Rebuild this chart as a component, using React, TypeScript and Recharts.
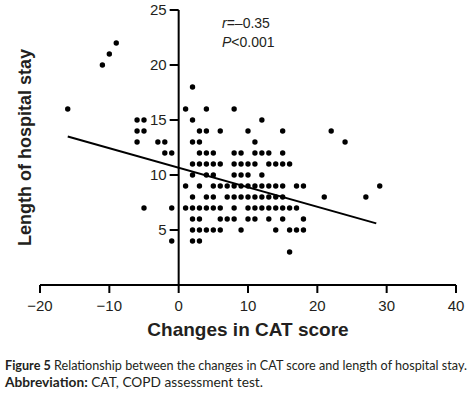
import React from "react";
import {
  ScatterChart,
  Scatter,
  XAxis,
  YAxis,
  ReferenceLine,
} from "recharts";

// length of hospital stay (days) for each row of dots
const stayDays = [22, 21, 20, 18, 16, 15, 14, 13, 12, 11, 10, 9, 8, 7, 6, 5, 4, 3];

// change in CAT score of the dots sitting on each row above
const catChangeByStay = [
  [-9],
  [-10],
  [-11],
  [2],
  [-16, 1, 4, 8],
  [-6, -5, 2, 12],
  [-6, -5, 3, 4, 6, 10, 15, 22],
  [-6, -3, -2, 2, 3, 11, 24],
  [-2, -1, 3, 4, 5, 8, 9, 11, 12, 13, 15],
  [2, 3, 4, 5, 6, 8, 9, 10, 11, 13, 14, 15, 16],
  [2, 4, 5, 8, 9, 10, 12],
  [1, 3, 5, 6, 7, 8, 9, 10, 11, 12, 13, 14, 15, 17, 18, 29],
  [2, 4, 5, 7, 8, 9, 10, 11, 12, 13, 14, 15, 21, 27],
  [-5, -1, 1, 2, 3, 4, 5, 6, 8, 10, 11, 12, 13, 14, 15, 16, 17],
  [2, 3, 6, 7, 8, 10, 11, 13, 15, 18],
  [2, 3, 4, 5, 6, 9, 14, 16, 17, 18],
  [-1, 2, 3],
  [16],
];

// ends of the fitted regression line
const fitX = [-16, 28.5];
const fitY = [13.5, 5.6];

const xTicks = [-20, -10, 0, 10, 20, 30, 40];
const yTicks = [5, 10, 15, 20, 25];

const points = stayDays.flatMap((y, i) => catChangeByStay[i].map((x) => ({ x, y })));
const fitLine = fitX.map((x, i) => ({ x, y: fitY[i] }));

const axisFont = "'Liberation Sans', Arial, sans-serif";
const captionFont = "Lato, 'Noto Sans', sans-serif";

const fmt = (v: number) => (v < 0 ? "\u2212" + Math.abs(v) : String(v));

const Dot = (props: any) => <circle cx={props.cx} cy={props.cy} r={2.7} fill="#000" />;

const App = () => {
  return (
    <div
      style={{
        position: "absolute",
        left: 0,
        top: 0,
        width: 474,
        height: 393,
        background: "#fff",
      }}
    >
      <ScatterChart width={474} height={350} margin={{ top: 10, right: 18, bottom: 5, left: 10 }}>
        <XAxis
          type="number"
          dataKey="x"
          domain={[-20, 40]}
          ticks={xTicks}
          tickFormatter={fmt}
          axisLine={{ stroke: "#000", strokeWidth: 2 }}
          tickLine={{ stroke: "#000", strokeWidth: 2 }}
          tickSize={8}
          tickMargin={7}
          height={60}
          tick={{ fill: "#231f20", fontSize: 15, fontFamily: axisFont }}
          label={{
            value: "Changes in CAT score",
            position: "insideBottom",
            offset: 9,
            style: { fill: "#231f20", fontSize: 19, fontWeight: "bold", fontFamily: axisFont },
          }}
        />
        <YAxis
          type="number"
          dataKey="y"
          domain={[0, 25]}
          width={30}
          tick={false}
          tickLine={false}
          axisLine={false}
          label={{
            value: "Length of hospital stay",
            angle: -90,
            position: "center",
            style: { fill: "#231f20", fontSize: 18, fontWeight: "bold", fontFamily: axisFont },
          }}
        />
        <ReferenceLine x={0} stroke="#000" strokeWidth={2} />
        {yTicks.map((v) => (
          <ReferenceLine
            key={v}
            segment={[
              { x: -1.3, y: v },
              { x: 0, y: v },
            ]}
            stroke="#000"
            strokeWidth={2}
            label={{
              value: String(v),
              position: "left",
              offset: 3,
              style: { fill: "#231f20", fontSize: 15, fontFamily: axisFont },
            }}
          />
        ))}
        <Scatter data={points} shape={Dot} isAnimationActive={false} />
        <Scatter
          data={fitLine}
          line={{ stroke: "#000", strokeWidth: 2 }}
          shape={() => <g />}
          isAnimationActive={false}
        />
      </ScatterChart>
      <svg width={474} height={60} style={{ position: "absolute", left: 0, top: 0 }}>
        <text x={222} y={28} fontSize={14} fontFamily={axisFont} fill="#231f20">
          <tspan fontStyle="italic">r</tspan>
          {"=\u20130.35"}
        </text>
        <text x={222} y={47} fontSize={14} fontFamily={axisFont} fill="#231f20">
          <tspan fontStyle="italic">P</tspan>
          {"<0.001"}
        </text>
      </svg>
      <svg width={474} height={43} style={{ position: "absolute", left: 0, top: 350 }}>
        <text x={5} y={20} fontSize={12.5} fontFamily={captionFont} fill="#231f20" textLength={462} lengthAdjust="spacingAndGlyphs">
          <tspan fontWeight="bold">Figure 5</tspan> Relationship between the changes in CAT score and length of hospital stay.
        </text>
        <text x={5} y={37} fontSize={12.5} fontFamily={captionFont} fill="#231f20" textLength={258} lengthAdjust="spacingAndGlyphs">
          <tspan fontWeight="bold">Abbreviation:</tspan> CAT, COPD assessment test.
        </text>
      </svg>
    </div>
  );
};

export default App;
